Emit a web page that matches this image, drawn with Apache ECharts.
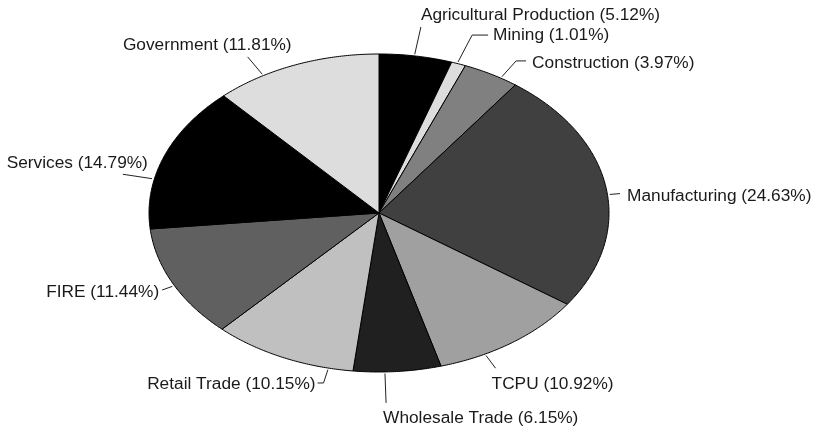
<!DOCTYPE html>
<html>
<head>
<meta charset="utf-8">
<script src="https://cdn.jsdelivr.net/npm/echarts@6/dist/echarts.min.js"></script>
<style>
  html, body { margin: 0; padding: 0; background: #fff; }
  #main { width: 817px; height: 433px; }
</style>
</head>
<body>
<div id="main"></div>
<script>
// industry shares, percent of total
var categories = ['Agricultural Production', 'Mining', 'Construction', 'Manufacturing', 'TCPU',
  'Wholesale Trade', 'Retail Trade', 'FIRE', 'Services', 'Government'];
var shares = [5.12, 1.01, 3.97, 24.63, 10.92, 6.15, 10.15, 11.44, 14.79, 11.81];

// grey fills, clockwise from 12 o'clock
var fills = ['#000000', '#dddddd', '#808080', '#404040', '#a0a0a0',
  '#202020', '#c0c0c0', '#606060', '#000000', '#dddddd'];

// label placement: at = spot inside the slice (0..1), len = leader end / radius,
// elbow = flat tail of the leader, dx/dy = nudge of the text from the tail
var labelLayout = [
  { at: 0.48, len: 1.184, elbow: 0, align: 'left', vAlign: 'bottom', dx: 0, dy: -3 },
  { at: 0.40, len: 1.19, elbow: 16, align: 'left', vAlign: 'middle', dx: 5, dy: 0 },
  { at: 0.69, len: 1.127, elbow: 10, align: 'left', vAlign: 'middle', dx: 6, dy: 2 },
  { at: 0.53, len: 1.055, elbow: 0, align: 'left', vAlign: 'middle', dx: 7, dy: 3 },
  { at: 0.70, len: 1.10, elbow: 0, align: 'left', vAlign: 'top', dx: -4, dy: 8 },
  { at: 0.64, len: 1.195, elbow: 0, align: 'left', vAlign: 'top', dx: -3, dy: 7 },
  { at: 0.17, len: 1.096, elbow: -6, align: 'right', vAlign: 'middle', dx: -2, dy: 1 },
  { at: 0.48, len: 1.06, elbow: 0, align: 'right', vAlign: 'middle', dx: -3, dy: 2 },
  { at: 0.34, len: 1.14, elbow: 0, align: 'right', vAlign: 'bottom', dx: 25, dy: -3 },
  { at: 0.29, len: 1.136, elbow: 0, align: 'right', vAlign: 'bottom', dx: 44, dy: -3 }
]

var total = 0
var starts = []
shares.forEach(function (v) {
  starts.push(total)
  total += v
})

function renderSlice(params, api) {
  var i = params.dataIndex
  var W = api.getWidth(), H = api.getHeight()
  var cx = W * 0.4639, cy = H * 0.4919, rx = W * 0.2815, ry = H * 0.3672
  // stretched circle: angle measured clockwise from top
  function pt(frac, k) {
    var a = frac * Math.PI * 2
    return [cx + rx * k * Math.sin(a), cy - ry * k * Math.cos(a)]
  }
  var f0 = starts[i] / total
  var f1 = (starts[i] + api.value(1)) / total
  var pts = [[cx, cy]]
  var n = Math.max(2, Math.ceil((f1 - f0) * 720))
  for (var s = 0; s <= n; s++) {
    pts.push(pt(f0 + (f1 - f0) * s / n, 1))
  }
  var lay = labelLayout[i]
  var fm = f0 + (f1 - f0) * lay.at
  var p0 = pt(fm, 1.01)
  var p1 = pt(fm, lay.len)
  var p2 = [p1[0] + lay.elbow, p1[1]]
  var leader = lay.elbow ? [p0, p1, p2] : [p0, p1]
  return {
    type: 'group',
    children: [
      {
        type: 'polygon',
        shape: { points: pts },
        style: { fill: fills[i], stroke: '#000', lineWidth: 1, lineJoin: 'round' }
      },
      {
        type: 'polyline',
        shape: { points: leader },
        style: { fill: null, stroke: '#222', lineWidth: 1 }
      },
      {
        type: 'text',
        x: p2[0] + lay.dx,
        y: p2[1] + lay.dy,
        style: {
          text: categories[i] + ' (' + api.value(1).toFixed(2) + '%)',
          align: lay.align,
          verticalAlign: lay.vAlign,
          fill: '#1a1a1a',
          font: '17.3px "Liberation Sans", Arial, sans-serif'
        }
      }
    ]
  }
}

var chart = echarts.init(document.getElementById('main'))
chart.setOption({
  backgroundColor: '#ffffff',
  animation: false,
  series: [
    {
      type: 'custom',
      coordinateSystem: 'none',
      renderItem: renderSlice,
      data: shares.map(function (v, i) {
        return { name: categories[i], value: [i, v] }
      })
    }
  ]
})
</script>
</body>
</html>
